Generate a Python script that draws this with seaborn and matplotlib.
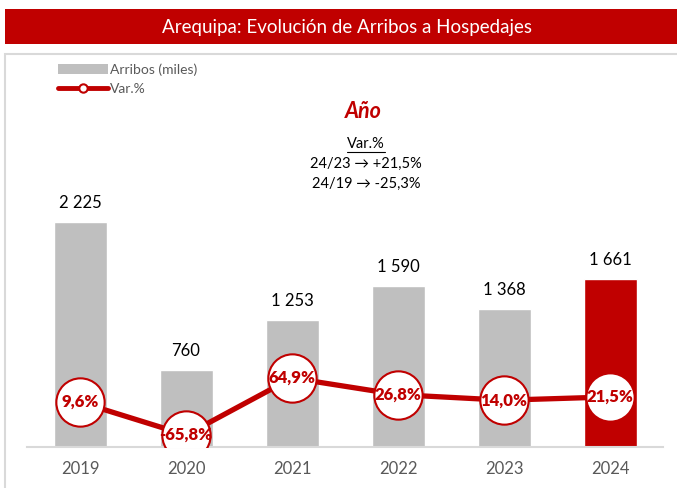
import seaborn as sns
import matplotlib.pyplot as plt
from matplotlib.patches import Rectangle, Patch
from matplotlib.lines import Line2D

years = ["2019", "2020", "2021", "2022", "2023", "2024"]
arribos = [2225, 760, 1253, 1590, 1368, 1661]
var_pct = [9.6, -65.8, 64.9, 26.8, 14.0, 21.5]

RED = "#C00000"
GRAY = "#BFBFBF"
TXT = "#595959"

sns.set_theme(style="white")
plt.rcParams["font.family"] = ["Lato", "DejaVu Sans"]

W, H = 677, 488
fig = plt.figure(figsize=(W / 100, H / 100), dpi=100)


def fx(px):
    return px / W


def fy(py):
    return 1 - py / H


# title banner
fig.patches.append(Rectangle((fx(5), fy(44)), fx(672), 35 / H, transform=fig.transFigure,
                             facecolor=RED, edgecolor="none"))
fig.text(fx(347), fy(27), "Arequipa: Evolución de Arribos a Hospedajes", color="white",
         fontsize=13.5, ha="center", va="center")
# chart frame
fig.patches.append(Rectangle((fx(5), fy(490)), fx(680), 436 / H, transform=fig.transFigure,
                             facecolor="none", edgecolor="#D9D9D9", linewidth=1.5))

ax = fig.add_axes([fx(27), fy(447), fx(636), 387 / H])
colors = [GRAY] * (len(years) - 1) + [RED]
sns.barplot(x=years, y=arribos, hue=years, palette=colors, legend=False,
            width=0.5, ax=ax, saturation=1)
ax.set_ylim(0, 3830)
ax.set_xlim(-0.5, len(years) - 0.5)
for i, v in enumerate(arribos):
    ax.annotate(f"{v:,}".replace(",", " "), (i, v), xytext=(0, 8), textcoords="offset points",
                ha="center", va="bottom", fontsize=12, color="black")
ax.set_yticks([])
ax.tick_params(axis="x", length=0, pad=10, labelsize=12, labelcolor=TXT)
for s in ["top", "right", "left"]:
    ax.spines[s].set_visible(False)
ax.spines["bottom"].set_color("#D9D9D9")
ax.spines["bottom"].set_linewidth(1.5)

ax2 = ax.twinx()
sns.lineplot(x=list(range(len(years))), y=var_pct, color=RED, linewidth=3.8, ax=ax2, zorder=3)
sns.scatterplot(x=list(range(len(years))), y=var_pct, s=1210, color="white",
                edgecolor=RED, linewidth=1.5, ax=ax2, zorder=4)
for i, v in enumerate(var_pct):
    ax2.text(i, v, f"{v:.1f}%".replace(".", ","), ha="center", va="center",
             fontsize=12, fontweight="heavy", color=RED, zorder=5)
ax2.set_ylim(-93.3, 794)
ax2.set_yticks([])
for s in ax2.spines.values():
    s.set_visible(False)

# legend
handles = [Patch(facecolor=GRAY, edgecolor="none"),
           Line2D([], [], color=RED, linewidth=3.5, marker="o", markersize=6,
                  markerfacecolor="white", markeredgecolor=RED, markeredgewidth=1.5)]
fig.legend(handles, ["Arribos (miles)", "Var.%"], loc="upper left",
           bbox_to_anchor=(fx(52), fy(58)), frameon=False, fontsize=10,
           labelcolor=TXT, handlelength=3.6, handletextpad=0.2, labelspacing=0.5,
           borderaxespad=0)

# annotation block
fig.text(fx(363), fy(112), "Año", color=RED, fontsize=15.5, fontweight="bold",
         fontstyle="italic", ha="center", va="center")
fig.text(fx(366), fy(144), "Var.%", fontsize=10.5, ha="center", va="center", color="black")
fig.add_artist(Line2D([fx(347), fx(385)], [fy(151.5), fy(151.5)], color="black", linewidth=0.8))
fig.text(fx(366), fy(164), "24/23 → +21,5%", fontsize=10.5, ha="center", va="center", color="black")
fig.text(fx(366), fy(184), "24/19 → -25,3%", fontsize=10.5, ha="center", va="center", color="black")

fig.savefig("out.png", dpi=100)
